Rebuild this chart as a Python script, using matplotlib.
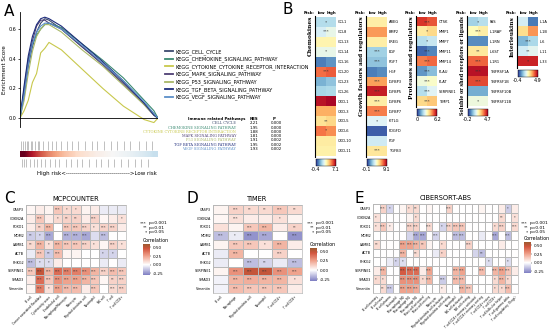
import numpy as np
import matplotlib
matplotlib.use('Agg')
import matplotlib.pyplot as plt
from matplotlib.colors import LinearSegmentedColormap, Normalize
from matplotlib.cm import ScalarMappable

W, H = 550, 329
fig = plt.figure(figsize=(5.5, 3.29), dpi=100)
plt.rcParams['font.family'] = ['DejaVu Sans']

def px_axes(l, t, r, b):
    return fig.add_axes([l / W, 1 - b / H, (r - l) / W, (b - t) / H])

def ftxt(x, y, s, **kw):
    fig.text(x / W, 1 - y / H, s, **kw)

# ---------------- DATA ----------------
# Panel A: GSEA running enrichment scores
rank_frac = [0, 0.03, 0.06, 0.09, 0.12, 0.15, 0.18, 0.21, 0.3, 0.45, 0.6, 0.75, 0.9, 0.97, 1.0]
pathways = ["KEGG_CELL_CYCLE", "KEGG_CHEMOKINE_SIGNALING_PATHWAY",
            "KEGG_CYTOKINE_CYTOKINE_RECEPTOR_INTERACTION", "KEGG_MAPK_SIGNALING_PATHWAY",
            "KEGG_P53_SIGNALING_PATHWAY", "KEGG_TGF_BETA_SIGNALING_PATHWAY",
            "KEGG_VEGF_SIGNALING_PATHWAY"]
path_colors = ["#3C4A6E", "#3A8A72", "#C8C84C", "#4E3F74", "#A9B868", "#1E2C7C", "#5B8FC8"]
es_cell_cycle = [0, 0.15, 0.35, 0.48, 0.58, 0.64, 0.67, 0.66, 0.60, 0.48, 0.37, 0.24, 0.10, 0.03, 0]
es_chemokine = [0, 0.20, 0.40, 0.50, 0.56, 0.60, 0.63, 0.64, 0.61, 0.50, 0.39, 0.27, 0.12, 0.05, 0]
es_cytokine = [0, 0.05, 0.12, 0.24, 0.30, 0.44, 0.47, 0.51, 0.46, 0.33, 0.20, 0.08, -0.01, -0.03, 0]
es_mapk = [0, 0.18, 0.38, 0.52, 0.62, 0.66, 0.66, 0.64, 0.60, 0.48, 0.36, 0.23, 0.09, 0.02, 0]
es_p53 = [0, 0.12, 0.30, 0.45, 0.55, 0.60, 0.63, 0.63, 0.58, 0.46, 0.35, 0.22, 0.09, 0.02, 0]
es_tgfb = [0, 0.22, 0.42, 0.55, 0.63, 0.67, 0.68, 0.67, 0.62, 0.50, 0.38, 0.25, 0.10, 0.02, 0]
es_vegf = [0, 0.16, 0.36, 0.50, 0.58, 0.62, 0.64, 0.64, 0.60, 0.49, 0.37, 0.25, 0.11, 0.03, 0]
es_all = [es_cell_cycle, es_chemokine, es_cytokine, es_mapk, es_p53, es_tgfb, es_vegf]

hits_top = [0.01, 0.02, 0.035, 0.05, 0.06, 0.08, 0.09, 0.11, 0.13, 0.14, 0.17, 0.20, 0.23, 0.26,
            0.30, 0.34, 0.38, 0.42, 0.47, 0.52, 0.56, 0.61, 0.66, 0.70, 0.75, 0.80, 0.86, 0.91, 0.96]
hits_bottom = [0.015, 0.03, 0.045, 0.07, 0.10, 0.12, 0.15, 0.18, 0.22, 0.25, 0.28, 0.33, 0.37,
               0.41, 0.45, 0.50, 0.55, 0.59, 0.64, 0.68, 0.73, 0.78, 0.83, 0.88, 0.93]
rank_metric = [3.0, 2.4, 1.9, 1.5, 1.2, 0.9, 0.7, 0.5, 0.35, 0.2, 0.1, 0.0, -0.1, -0.2, -0.35, -0.5, -0.7]

table_names = ["CELL CYCLE", "CHEMOKINE SIGNALING PATHWAY", "CYTOKINE CYTOKINE RECEPTOR INTERACTION",
               "MAPK SIGNALING PATHWAY", "P53 SIGNALING PATHWAY", "TGF BETA SIGNALING PATHWAY",
               "VEGF SIGNALING PATHWAY"]
table_nes = ["2.21", "1.95", "1.88", "1.81", "1.91", "1.95", "1.93"]
table_p = ["0.000", "0.000", "0.000", "0.000", "0.002", "0.002", "0.002"]

# Panel B: risk group heatmaps (low, high)
chem_genes = ["CCL1", "CCL8", "CCL13", "CCL14", "CCL16", "CCL20", "CCL23", "CCL26",
              "CXCL1", "CXCL3", "CXCL5", "CXCL6", "CXCL10", "CXCL11"]
chem_vals = [[2.0, 2.0], [2.5, 2.8], [3.6, 3.6], [2.8, 2.8], [0.5, 0.8], [5.6, 5.8], [1.2, 1.5],
             [1.8, 1.9], [6.8, 7.0], [4.8, 4.8], [4.0, 4.2], [5.5, 5.2], [3.8, 3.8], [3.7, 3.7]]
chem_stars = [1, 3, 0, 1, 0, 3, 0, 0, 0, 0, 2, 1, 0, 0]
growth_genes = ["AREG", "BMP2", "EREG", "EGF", "FGF7", "HGF", "IGFBP3", "IGFBP5", "IGFBP6",
                "IGFBP7", "KITLG", "PDGFD", "PGF", "TGFB3"]
growth_vals = [[5.0, 5.0], [6.6, 6.6], [5.0, 5.0], [2.5, 2.5], [2.2, 2.2], [1.0, 1.2], [6.5, 6.5],
               [8.5, 8.5], [5.0, 5.0], [7.0, 7.0], [3.6, 3.6], [0.5, 0.5], [3.3, 3.3], [5.2, 5.2]]
growth_stars = [0, 0, 0, 3, 3, 0, 3, 3, 3, 3, 1, 0, 0, 3]
prot_genes = ["CTSK", "MMP1", "MMP7", "MMP11", "MMP14", "PLAU", "PLAT", "SERPINE1", "TIMP1"]
prot_vals = [[5.5, 5.2], [3.5, 3.8], [2.0, 2.2], [0.5, 0.8], [4.8, 5.0], [1.0, 1.5], [2.8, 3.0],
             [2.0, 2.5], [3.8, 4.0]]
prot_stars = [3, 1, 1, 3, 3, 3, 3, 3, 3]
sol_genes = ["FAS", "IL1RAP", "IL1RN", "IL6ST", "IL1R1", "TNFRSF1A", "TNFRSF1B", "TNFRSF10B", "TNFRSF11B"]
sol_vals = [[1.2, 1.4], [2.3, 2.5], [0.5, 0.5], [2.6, 2.6], [3.8, 3.8], [4.5, 4.5], [4.0, 4.0],
            [0.8, 0.8], [2.0, 2.0]]
sol_stars = [1, 3, 0, 2, 3, 3, 3, 0, 1]
il_genes = ["IL1A", "IL1B", "IL6", "IL11", "IL33"]
il_vals = [[1.6, 0.2], [2.8, 3.5], [0.8, 1.2], [1.6, 1.8], [4.5, 4.5]]
il_stars = [0, 0, 3, 2, 1]

# Panels C-E: correlation heatmaps
genes = ["CASP3", "CDKN2A", "FOXO1", "MDM2", "LAMB1", "ACTB", "PHKG2", "SERPINE1", "SMAD3", "Vimentin"]
mcp_cells = ["B cell", "Cancer associated fibroblast", "Cytotoxicity score", "Endothelial cell",
             "Macrophage/Monocyte", "Monocyte", "Myeloid dendritic cell", "Neutrophil",
             "NK cell", "T cell", "T cell CD8+"]
mcp_vals = [
    [0.02, 0.05, 0.03, 0.15, 0.10, 0.10, 0.03, 0.05, -0.05, -0.05, -0.05],
    [0.05, 0.15, 0.05, 0.10, 0.12, 0.12, 0.05, 0.12, 0.02, 0.05, 0.08],
    [0.05, 0.12, 0.20, 0.00, 0.15, 0.15, 0.12, 0.08, 0.12, 0.12, 0.05],
    [-0.12, -0.10, -0.20, 0.00, -0.18, -0.18, -0.20, -0.08, -0.15, 0.00, 0.00],
    [0.10, 0.20, 0.08, 0.20, 0.15, 0.15, 0.12, 0.08, 0.02, 0.12, 0.08],
    [-0.05, 0.15, -0.12, 0.18, 0.03, 0.03, 0.00, 0.00, -0.10, -0.10, 0.00],
    [-0.15, -0.08, -0.08, 0.05, 0.00, 0.00, 0.00, 0.00, -0.05, 0.00, -0.05],
    [0.15, 0.50, 0.20, 0.40, 0.35, 0.35, 0.30, 0.20, 0.12, 0.18, 0.15],
    [0.05, 0.40, 0.15, 0.30, 0.25, 0.25, 0.20, 0.15, 0.02, 0.12, 0.12],
    [0.03, 0.35, 0.08, 0.25, 0.18, 0.18, 0.05, 0.15, 0.00, 0.10, 0.12]]
mcp_stars = [
    [0, 0, 0, 3, 1, 1, 0, 0, 0, 0, 0],
    [0, 3, 0, 1, 2, 2, 0, 3, 0, 0, 1],
    [0, 2, 3, 0, 3, 3, 3, 1, 3, 3, 0],
    [2, 1, 3, 0, 3, 3, 3, 0, 3, 0, 0],
    [2, 3, 1, 3, 3, 3, 3, 1, 0, 3, 1],
    [0, 3, 2, 3, 0, 0, 0, 0, 1, 1, 0],
    [3, 1, 1, 0, 0, 0, 0, 0, 0, 0, 0],
    [3, 3, 3, 3, 3, 3, 3, 3, 3, 3, 3],
    [0, 3, 3, 3, 3, 3, 3, 3, 0, 2, 3],
    [0, 3, 1, 3, 3, 3, 0, 3, 0, 3, 3]]
timer_cells = ["B cell", "Macrophage", "Myeloid dendritic cell", "Neutrophil", "T cell CD4+", "T cell CD8+"]
timer_vals = [
    [0.03, 0.12, 0.10, 0.10, 0.15, 0.10],
    [0.02, 0.08, 0.05, 0.05, 0.08, 0.03],
    [0.08, 0.03, 0.15, 0.20, 0.05, 0.12],
    [-0.15, -0.05, -0.25, -0.20, 0.00, -0.25],
    [0.03, 0.15, 0.15, 0.08, 0.20, 0.05],
    [-0.05, 0.20, 0.00, 0.00, 0.12, 0.00],
    [-0.05, 0.00, -0.15, -0.10, -0.05, -0.15],
    [0.03, 0.30, 0.50, 0.50, 0.30, 0.25],
    [-0.03, 0.20, 0.22, 0.20, 0.20, 0.08],
    [-0.03, 0.18, 0.15, 0.15, 0.15, 0.05]]
timer_stars = [
    [0, 3, 2, 2, 3, 2],
    [0, 3, 0, 0, 1, 0],
    [0, 0, 3, 3, 0, 2],
    [3, 1, 3, 3, 0, 3],
    [0, 3, 3, 1, 3, 0],
    [0, 3, 0, 0, 3, 0],
    [0, 0, 3, 2, 0, 3],
    [0, 3, 3, 3, 3, 3],
    [0, 3, 3, 3, 3, 1],
    [0, 3, 3, 3, 3, 0]]
cib_cells = ["B cell memory", "B cell naive", "B cell plasma", "Eosinophil", "Macrophage M0",
             "Macrophage M1", "Macrophage M2", "Mast cell activated", "Mast cell resting", "Monocyte",
             "Myeloid dendritic cell activated", "Myeloid dendritic cell resting", "Neutrophil",
             "NK cell activated", "NK cell resting", "T cell CD4+ memory activated",
             "T cell CD4+ memory resting", "T cell CD4+ naive", "T cell CD8+",
             "T cell follicular helper", "T cell gamma delta", "T cell regulatory (Tregs)"]
cib_vals = [
    [0, .12, -.10, 0, .03, .10, .10, 0, .02, 0, 0, .12, 0, 0, 0, 0, .03, 0, 0, .05, -.12, .05],
    [.08, 0, 0, 0, 0, .03, .10, 0, 0, 0, 0, 0, 0, 0, 0, 0, 0, 0, 0, .10, 0, .08],
    [.08, .15, .05, 0, 0, .12, .12, 0, .10, 0, -.10, .12, .15, .15, 0, 0, 0, 0, .10, .12, 0, .10],
    [0, 0, 0, 0, 0, -.10, -.20, -.20, 0, -.10, 0, 0, -.15, -.15, 0, 0, -.05, 0, -.20, 0, -.15, 0],
    [.10, 0, 0, 0, .25, .25, .20, .15, .03, 0, .10, 0, 0, 0, .12, 0, 0, 0, 0, .05, 0, 0],
    [0, 0, 0, 0, .20, 0, .10, 0, 0, -.05, .12, 0, 0, 0, 0, -.10, -.15, 0, 0, 0, 0, 0],
    [0, 0, -.05, -.10, -.08, 0, 0, 0, 0, 0, 0, 0, 0, 0, 0, 0, 0, -.08, 0, 0, -.08, 0],
    [.05, .20, 0, 0, .45, .40, .40, .05, .25, 0, 0, 0, .20, .25, 0, 0, .18, 0, .20, .25, .15, .05],
    [.10, .10, 0, 0, .30, .30, .30, .10, .20, 0, -.12, 0, .18, .18, 0, 0, 0, 0, .10, .20, .10, 0],
    [0, .10, -.12, 0, .25, .25, .22, 0, 0, 0, .05, 0, 0, .20, .15, 0, 0, 0, .10, .10, .18, 0]]
cib_stars = [
    [0, 3, 1, 0, 0, 1, 2, 0, 0, 0, 0, 3, 0, 0, 0, 0, 0, 0, 0, 0, 1, 0],
    [1, 0, 0, 0, 0, 0, 1, 0, 0, 0, 0, 0, 0, 0, 0, 0, 0, 0, 0, 2, 0, 1],
    [1, 3, 1, 0, 0, 3, 3, 0, 3, 0, 1, 3, 3, 3, 0, 0, 0, 0, 1, 3, 0, 3],
    [0, 0, 0, 0, 0, 0, 3, 3, 0, 3, 0, 0, 3, 3, 0, 0, 0, 0, 3, 0, 3, 0],
    [2, 0, 0, 0, 3, 3, 3, 2, 0, 0, 1, 0, 0, 0, 3, 0, 0, 0, 0, 0, 0, 0],
    [0, 0, 0, 0, 3, 0, 2, 0, 0, 0, 1, 0, 0, 0, 0, 0, 2, 0, 0, 0, 0, 0],
    [0, 0, 0, 1, 1, 0, 0, 0, 0, 0, 0, 0, 0, 0, 0, 0, 0, 1, 0, 0, 1, 0],
    [0, 3, 0, 0, 3, 3, 3, 0, 3, 0, 0, 0, 3, 3, 0, 0, 3, 0, 3, 3, 3, 0],
    [1, 1, 0, 0, 3, 3, 3, 1, 3, 0, 3, 0, 3, 3, 0, 0, 0, 0, 1, 3, 1, 0],
    [0, 2, 3, 0, 3, 3, 3, 0, 0, 0, 1, 0, 0, 3, 3, 0, 0, 0, 1, 1, 3, 0]]

STAR = {0: "", 1: "*", 2: "**", 3: "***"}

# ---------------- PANEL A ----------------
ftxt(4, 4, "A", fontsize=11, va='top', ha='left')
axA = px_axes(20, 12, 158, 127)
for name, col, es in zip(pathways, path_colors, es_all):
    axA.plot(rank_frac, es, color=col, lw=0.8, label=name)
axA.axhline(0, color='black', lw=0.6)
axA.set_xlim(0, 1)
axA.set_ylim(-0.06, 0.715)
for s in ['top', 'right', 'bottom']:
    axA.spines[s].set_visible(False)
axA.spines['left'].set_linewidth(0.6)
axA.set_xticks([])
axA.set_yticks([0, 0.2, 0.4, 0.6])
axA.set_yticklabels(["0.0", "0.2", "0.4", "0.6"])
axA.tick_params(axis='y', labelsize=3.5, length=1.5, width=0.5, pad=1)
axA.set_ylabel("Enrichment Score", fontsize=4, labelpad=1)
leg = axA.legend(loc='upper left', bbox_to_anchor=(163 / W, 1 - 47 / H),
                 bbox_transform=fig.transFigure, fontsize=3.6, frameon=False,
                 handlelength=1.6, labelspacing=0.38, borderaxespad=0, handletextpad=0.6)
for lh in leg.get_lines():
    lh.set_linewidth(1.3)

axR = px_axes(20, 140, 158, 168)
axR.axis('off')
axR.vlines(hits_top, 0.66, 0.98, color='#909090', lw=0.4)
axR.vlines(hits_bottom, 0.02, 0.32, color='#909090', lw=0.4)
axR.imshow(np.array([rank_metric]), cmap='RdBu_r', vmin=-3, vmax=3, aspect='auto',
           extent=(0, 1, 0.38, 0.58), interpolation='bilinear')
axR.set_xlim(0, 1)
axR.set_ylim(0, 1)
ftxt(97, 174, "High risk<-------------------------------->Low risk", fontsize=4, ha='center', va='center')

# table
ftxt(217, 119, "Immune related Pathways", fontsize=2.8, ha='center', va='center', weight='bold')
ftxt(254, 119, "NES", fontsize=2.8, ha='center', va='center', weight='bold')
ftxt(274, 119, "P", fontsize=2.8, ha='center', va='center', weight='bold')
for i, (nm, nes, p) in enumerate(zip(table_names, table_nes, table_p)):
    y = 123.5 + i * 4.2
    ftxt(236, y, nm, fontsize=2.6, ha='right', va='center', color=path_colors[i], family='serif')
    ftxt(254, y, nes, fontsize=2.8, ha='center', va='center')
    ftxt(282, y, p, fontsize=2.8, ha='right', va='center')

# ---------------- PANEL B ----------------
ftxt(282, 2, "B", fontsize=11, va='top', ha='left')
cmB = plt.get_cmap('RdYlBu_r')

def risk_heat(l, t, gnames, vals, stars, vmin, vmax, cat, catsize=4.2):
    n = len(gnames)
    rh = 9.9
    b = t + n * rh
    ax = px_axes(l, t, l + 20, b)
    ax.imshow(np.array(vals), cmap=cmB, vmin=vmin, vmax=vmax, aspect='auto', interpolation='nearest')
    ax.set_xticks([])
    ax.set_yticks(range(n))
    ax.set_yticklabels(gnames, fontsize=2.6)
    ax.yaxis.tick_right()
    ax.tick_params(axis='y', length=0, pad=1.5)
    for s in ax.spines.values():
        s.set_visible(False)
    for i, st in enumerate(stars):
        if st:
            ax.text(0.5, i, STAR[st], ha='center', va='center', fontsize=3.2, color='#333333')
    ftxt(l - 2, t - 4, "Risk:", fontsize=2.8, ha='right', va='center', weight='bold')
    ftxt(l + 5, t - 4, "low", fontsize=2.8, ha='center', va='center', weight='bold')
    ftxt(l + 15, t - 4, "high", fontsize=2.8, ha='center', va='center', weight='bold')
    fig.add_artist(plt.Line2D([(l - 1.5) / W, (l - 1.5) / W], [1 - (t - 1) / H, 1 - (b + 1) / H],
                              color='black', lw=0.8, transform=fig.transFigure))
    ftxt(l - 3, t - 1, cat, fontsize=catsize, rotation=90, ha='right', va='top', weight='bold', family='serif')
    cax = px_axes(l, b + 3, l + 20, b + 10)
    cb = fig.colorbar(ScalarMappable(norm=Normalize(vmin, vmax), cmap=cmB), cax=cax, orientation='horizontal')
    cb.set_ticks([vmin, vmax])
    cb.set_ticklabels([f"{vmin:g}", f"{vmax:g}"])
    cb.ax.tick_params(labelsize=3.5, length=0, pad=1)
    cb.outline.set_linewidth(0.3)

risk_heat(316, 17, chem_genes, chem_vals, chem_stars, -0.4, 7.1, "Chemokines")
risk_heat(367, 17, growth_genes, growth_vals, growth_stars, -0.1, 9.1, "Growth factors and regulators")
risk_heat(417, 17, prot_genes, prot_vals, prot_stars, 0, 6.2, "Proteases and regulators")
risk_heat(468, 17, sol_genes, sol_vals, sol_stars, -0.2, 4.7, "Soluble or shed receptors or ligands", 3.4)
risk_heat(518, 17, il_genes, il_vals, il_stars, -0.4, 4.9, "Interleukins")

# ---------------- PANELS C-E ----------------
cmC = LinearSegmentedColormap.from_list('corr', [(0.0, '#7D7DC2'), (0.33, '#FFFFFF'),
                                                 (0.62, '#EFA08A'), (0.85, '#D2553E'),
                                                 (1.0, '#9C5A30')])
normC = Normalize(-0.3, 0.6)

def corr_heat(l, t, r, b, vals, stars, cells, title, label, lab_x, leg_x, cb_t, cb_b):
    ftxt(lab_x, 191, label, fontsize=11, va='top', ha='left')
    ax = px_axes(l, t, r, b)
    v = np.array(vals)
    nr, nc = v.shape
    ax.pcolormesh(v, cmap=cmC, norm=normC, edgecolors='#B8B8B8', linewidth=0.4)
    ax.set_xlim(0, nc)
    ax.set_ylim(nr, 0)
    ax.set_yticks(np.arange(nr) + 0.5)
    ax.set_yticklabels(genes, fontsize=2.4)
    ax.set_xticks(np.arange(nc) + 0.5)
    ax.set_xticklabels(cells, fontsize=2.1, rotation=45, ha='right', rotation_mode='anchor')
    ax.tick_params(length=0, pad=1.5)
    for s in ax.spines.values():
        s.set_color('#B8B8B8')
        s.set_linewidth(0.5)
    for i in range(nr):
        for j in range(nc):
            if stars[i][j]:
                ax.text(j + 0.5, i + 0.5, STAR[stars[i][j]], ha='center', va='center',
                        fontsize=2.6, color='#333333')
    ax.set_title(title, fontsize=4.8, pad=3)
    for k, (s, p) in enumerate([("***", "p<0.001"), ("**", "p<0.01"), ("*", "p<0.05")]):
        ftxt(leg_x + 4, 223 + k * 4.5, s, fontsize=3.2, ha='right', va='center')
        ftxt(leg_x + 6, 223 + k * 4.5, p, fontsize=3.2, ha='left', va='center')
    ftxt(leg_x, cb_t - 4, "Correlation", fontsize=3.4, ha='left', va='center')
    cax = px_axes(leg_x, cb_t, leg_x + 7, cb_b)
    cb = fig.colorbar(ScalarMappable(norm=normC, cmap=cmC), cax=cax)
    cb.set_ticks([-0.25, 0, 0.25, 0.5])
    cb.set_ticklabels(["-0.25", "0.00", "0.25", "0.50"])
    cb.ax.tick_params(labelsize=3, length=1, width=0.3, pad=1)
    cb.outline.set_linewidth(0)

corr_heat(26, 205, 126, 293, mcp_vals, mcp_stars, mcp_cells, "MCPCOUNTER", "C", 4, 143, 244, 275)
corr_heat(213, 205, 302, 293, timer_vals, timer_stars, timer_cells, "TIMER", "D", 187, 310, 248, 281)
corr_heat(373, 204, 518, 293, cib_vals, cib_stars, cib_cells, "CIBERSORT-ABS", "E", 355, 524, 242, 273)

fig.savefig("out.png", dpi=100)
